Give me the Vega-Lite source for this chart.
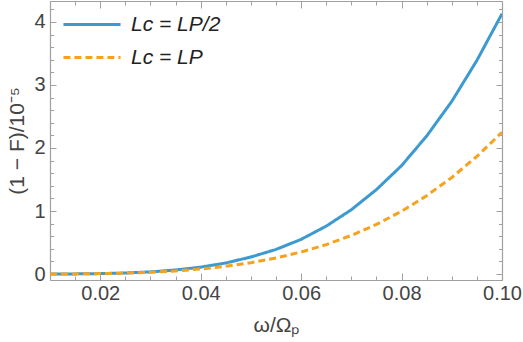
{
  "$schema": "https://vega.github.io/schema/vega-lite/v6.json",
  "width": 452,
  "height": 279,
  "autosize": {"type": "none"},
  "padding": {"left": 50, "top": 1, "right": 21, "bottom": 62},
  "background": "white",
  "config": {
    "view": {"stroke": null},
    "font": "Liberation Sans",
    "axis": {
      "grid": false,
      "domainColor": "#a0a0a0",
      "domainWidth": 1.2,
      "tickColor": "#a0a0a0",
      "tickWidth": 1,
      "labelFont": "Liberation Sans",
      "labelFontSize": 20,
      "labelColor": "#444444",
      "titleFont": "Liberation Sans",
      "titleFontSize": 21,
      "titleFontWeight": "normal",
      "titleColor": "#444444",
      "labelOverlap": false,
      "labelFlush": false
    }
  },
  "data": {
    "values": [
      {"x": 0.010, "y": 0.0004, "s": "Lc = LP/2"},
      {"x": 0.015, "y": 0.002, "s": "Lc = LP/2"},
      {"x": 0.020, "y": 0.0066, "s": "Lc = LP/2"},
      {"x": 0.025, "y": 0.016, "s": "Lc = LP/2"},
      {"x": 0.030, "y": 0.034, "s": "Lc = LP/2"},
      {"x": 0.035, "y": 0.064, "s": "Lc = LP/2"},
      {"x": 0.040, "y": 0.109, "s": "Lc = LP/2"},
      {"x": 0.045, "y": 0.175, "s": "Lc = LP/2"},
      {"x": 0.050, "y": 0.27, "s": "Lc = LP/2"},
      {"x": 0.055, "y": 0.39, "s": "Lc = LP/2"},
      {"x": 0.060, "y": 0.55, "s": "Lc = LP/2"},
      {"x": 0.065, "y": 0.76, "s": "Lc = LP/2"},
      {"x": 0.070, "y": 1.02, "s": "Lc = LP/2"},
      {"x": 0.075, "y": 1.34, "s": "Lc = LP/2"},
      {"x": 0.080, "y": 1.72, "s": "Lc = LP/2"},
      {"x": 0.085, "y": 2.19, "s": "Lc = LP/2"},
      {"x": 0.090, "y": 2.74, "s": "Lc = LP/2"},
      {"x": 0.095, "y": 3.39, "s": "Lc = LP/2"},
      {"x": 0.100, "y": 4.13, "s": "Lc = LP/2"},
      {"x": 0.010, "y": 0.0005, "s": "Lc = LP"},
      {"x": 0.015, "y": 0.0022, "s": "Lc = LP"},
      {"x": 0.020, "y": 0.0063, "s": "Lc = LP"},
      {"x": 0.025, "y": 0.0143, "s": "Lc = LP"},
      {"x": 0.030, "y": 0.028, "s": "Lc = LP"},
      {"x": 0.035, "y": 0.049, "s": "Lc = LP"},
      {"x": 0.040, "y": 0.079, "s": "Lc = LP"},
      {"x": 0.045, "y": 0.122, "s": "Lc = LP"},
      {"x": 0.050, "y": 0.179, "s": "Lc = LP"},
      {"x": 0.055, "y": 0.254, "s": "Lc = LP"},
      {"x": 0.060, "y": 0.349, "s": "Lc = LP"},
      {"x": 0.065, "y": 0.467, "s": "Lc = LP"},
      {"x": 0.070, "y": 0.612, "s": "Lc = LP"},
      {"x": 0.075, "y": 0.787, "s": "Lc = LP"},
      {"x": 0.080, "y": 0.996, "s": "Lc = LP"},
      {"x": 0.085, "y": 1.243, "s": "Lc = LP"},
      {"x": 0.090, "y": 1.532, "s": "Lc = LP"},
      {"x": 0.095, "y": 1.866, "s": "Lc = LP"},
      {"x": 0.100, "y": 2.25, "s": "Lc = LP"}
    ]
  },
  "layer": [
    {
      "mark": {"type": "line", "opacity": 0},
      "encoding": {
        "x": {
          "field": "x", "type": "quantitative",
          "scale": {"domain": [0.01, 0.1], "nice": false, "zero": false},
          "axis": {
            "orient": "top", "labels": false, "title": null,
            "values": [0.01,0.015,0.02,0.025,0.03,0.035,0.04,0.045,0.05,0.055,0.06,0.065,0.07,0.075,0.08,0.085,0.09,0.095,0.1],
            "tickSize": {"condition": {"test": "abs(datum.value*50-round(datum.value*50))<1e-6", "value": -7}, "value": -4}
          }
        },
        "y": {
          "field": "y", "type": "quantitative",
          "scale": {"domain": [-0.095, 4.333], "nice": false, "zero": false},
          "axis": {
            "orient": "right", "labels": false, "title": null,
            "values": [0,0.2,0.4,0.6,0.8,1,1.2,1.4,1.6,1.8,2,2.2,2.4,2.6,2.8,3,3.2,3.4,3.6,3.8,4,4.2],
            "tickSize": {"condition": {"test": "abs(datum.value-round(datum.value))<1e-6", "value": -6}, "value": -3.5}
          }
        }
      }
    },
    {
      "mark": {"type": "line", "strokeWidth": 3, "clip": true},
      "encoding": {
        "x": {
          "field": "x", "type": "quantitative",
          "axis": {
            "orient": "bottom", "title": "ω/Ωₚ", "titlePadding": 8,
            "values": [0.01,0.015,0.02,0.025,0.03,0.035,0.04,0.045,0.05,0.055,0.06,0.065,0.07,0.075,0.08,0.085,0.09,0.095,0.1],
            "labelExpr": "abs(datum.value*50-round(datum.value*50))<1e-6 ? format(datum.value, '.2f') : ''",
            "labelPadding": 10,
            "tickSize": {"condition": {"test": "abs(datum.value*50-round(datum.value*50))<1e-6", "value": -7}, "value": -4}
          }
        },
        "y": {
          "field": "y", "type": "quantitative",
          "axis": {
            "orient": "left", "title": "(1 − F)/10⁻⁵", "titlePadding": 6,
            "values": [0,0.2,0.4,0.6,0.8,1,1.2,1.4,1.6,1.8,2,2.2,2.4,2.6,2.8,3,3.2,3.4,3.6,3.8,4,4.2],
            "labelExpr": "abs(datum.value-round(datum.value))<1e-6 ? format(datum.value, 'd') : ''",
            "labelPadding": 11,
            "tickSize": {"condition": {"test": "abs(datum.value-round(datum.value))<1e-6", "value": -6}, "value": -3.5}
          }
        },
        "color": {
          "field": "s", "type": "nominal",
          "scale": {"domain": ["Lc = LP/2", "Lc = LP"], "range": ["#3D9AD1", "#F5A21F"]},
          "legend": {
            "orient": "none", "legendX": 23.5, "legendY": 5, "title": null,
            "padding": 0,
            "symbolType": "M-1.68,0H1.68", "symbolSize": 1156, "symbolStrokeWidth": 3,
            "symbolFillColor": "transparent",
            "labelFontSize": 21, "labelFontStyle": "italic", "labelColor": "#222222",
            "labelFont": "Liberation Sans", "labelOffset": 20.5, "rowPadding": 4
          }
        },
        "strokeDash": {
          "field": "s", "type": "nominal",
          "scale": {"domain": ["Lc = LP/2", "Lc = LP"], "range": [[1, 0], [7, 4]]},
          "legend": null
        }
      }
    }
  ]
}
